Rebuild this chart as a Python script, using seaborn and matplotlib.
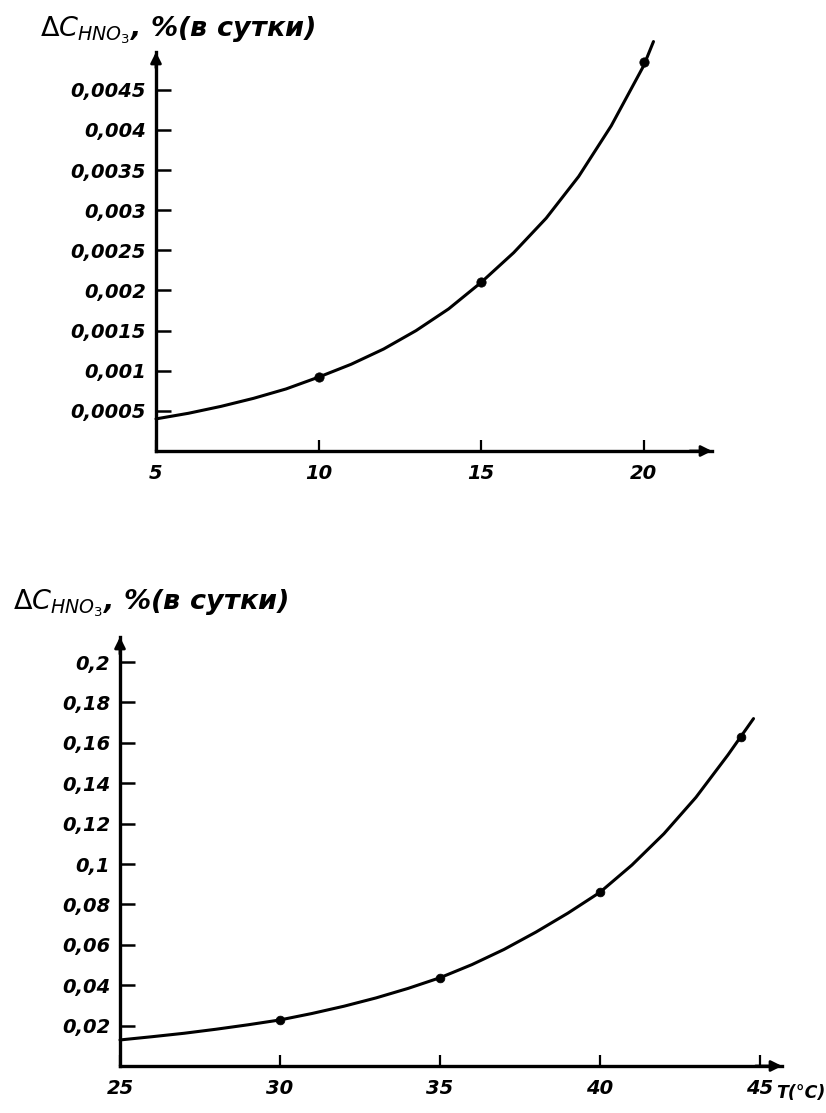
import numpy as np
import pandas as pd
import matplotlib
matplotlib.use("Agg")
import matplotlib.pyplot as plt
import seaborn as sns

# ---------------- data ----------------
# upper chart: temperature 5..20 °C
top_curve_T = [5, 6, 7, 8, 9, 10, 11, 12, 13, 14, 15, 16, 17, 18, 19, 20, 20.3]
top_curve_C = [0.0004, 0.00047, 0.000556, 0.000656, 0.000773, 0.00092, 0.00108,
               0.00127, 0.0015, 0.00177, 0.0021, 0.00247, 0.0029, 0.00342,
               0.00405, 0.0048, 0.0051]
top_points_T = [10, 15, 20]
top_points_C = [0.00092, 0.0021, 0.00484]
top_xticks = [5, 10, 15, 20]
top_xticklabels = ["5", "10", "15", "20"]
top_yticks = [0.0005, 0.001, 0.0015, 0.002, 0.0025, 0.003, 0.0035, 0.004, 0.0045]
top_yticklabels = ["0,0005", "0,001", "0,0015", "0,002", "0,0025", "0,003",
                   "0,0035", "0,004", "0,0045"]

# lower chart: temperature 25..45 °C
bot_curve_T = [25, 26, 27, 28, 29, 30, 31, 32, 33, 34, 35, 36, 37, 38, 39, 40,
               41, 42, 43, 44, 44.4, 44.8]
bot_curve_C = [0.0129, 0.0145, 0.0162, 0.0182, 0.0204, 0.0228, 0.026, 0.0296,
               0.0337, 0.0384, 0.0437, 0.0502, 0.0577, 0.0663, 0.0757, 0.086,
               0.0995, 0.115, 0.133, 0.154, 0.163, 0.172]
bot_points_T = [30, 35, 40, 44.4]
bot_points_C = [0.0228, 0.0437, 0.086, 0.163]
bot_xticks = [25, 30, 35, 40, 45]
bot_xticklabels = ["25", "30", "35", "40", "45"]
bot_yticks = [0.02, 0.04, 0.06, 0.08, 0.1, 0.12, 0.14, 0.16, 0.18, 0.2]
bot_yticklabels = ["0,02", "0,04", "0,06", "0,08", "0,1", "0,12", "0,14",
                   "0,16", "0,18", "0,2"]

ylabel_text = r"$\Delta C_{HNO_3}$, %(в сутки)"
xunit_text = "T(°C)"

# ---------------- style ----------------
sns.set_style("white")
plt.rcParams['font.family'] = ['DejaVu Sans']
plt.rcParams['mathtext.fontset'] = 'dejavusans'
plt.rcParams['mathtext.default'] = 'it'
plt.rcParams['text.color'] = 'black'

W, H = 826, 1113
fig = plt.figure(figsize=(W / 100, H / 100), dpi=100)
fig.patch.set_facecolor("white")

ax1 = fig.add_axes([156 / W, 1 - 451 / H, 556 / W, 399 / H])
ax2 = fig.add_axes([120 / W, 1 - 1066 / H, 662 / W, 429 / H])

lab_font = dict(fontsize=14, fontstyle="italic", fontweight="bold",
                color="black")


def style_axis(ax, xlim, ylim, xticks, xlabels, yticks, ylabels, xpad):
    ax.set_xlim(*xlim)
    ax.set_ylim(*ylim)
    for s in ("top", "right"):
        ax.spines[s].set_visible(False)
    for s in ("left", "bottom"):
        ax.spines[s].set_linewidth(2.4)
        ax.spines[s].set_color("black")
    ax.set_xticks(xticks)
    ax.set_xticklabels(xlabels, **lab_font)
    ax.set_yticks(yticks)
    ax.set_yticklabels(ylabels, **lab_font)
    ax.tick_params(axis="y", direction="in", length=11, width=1.8, pad=7,
                   colors="black", left=True)
    ax.tick_params(axis="x", direction="in", length=8, width=1.6, pad=xpad,
                   colors="black", bottom=True)
    ax.set_xlabel("")
    ax.set_ylabel("")
    ax.grid(False)
    # arrow heads on the axes ends
    ax.annotate("", xy=(1, 0), xycoords="axes fraction", xytext=(0.96, 0),
                arrowprops=dict(arrowstyle="-|>", color="black", lw=2.0,
                                mutation_scale=16, shrinkA=0, shrinkB=0))
    ax.annotate("", xy=(0, 1), xycoords="axes fraction", xytext=(0, 0.96),
                arrowprops=dict(arrowstyle="-|>", color="black", lw=2.0,
                                mutation_scale=16, shrinkA=0, shrinkB=0))


df_top = pd.DataFrame({"T": top_curve_T, "C": top_curve_C})
df_top_pts = pd.DataFrame({"T": top_points_T, "C": top_points_C})
df_bot = pd.DataFrame({"T": bot_curve_T, "C": bot_curve_C})
df_bot_pts = pd.DataFrame({"T": bot_points_T, "C": bot_points_C})

sns.lineplot(data=df_top, x="T", y="C", ax=ax1, color="black", lw=2.2,
             sort=True, clip_on=False)
sns.scatterplot(data=df_top_pts, x="T", y="C", ax=ax1, color="black", s=45,
                edgecolor="black", clip_on=False, zorder=5)
style_axis(ax1, (5, 22.1), (0, 0.00497), top_xticks, top_xticklabels,
           top_yticks, top_yticklabels, 9)

sns.lineplot(data=df_bot, x="T", y="C", ax=ax2, color="black", lw=2.2,
             sort=True, clip_on=False)
sns.scatterplot(data=df_bot_pts, x="T", y="C", ax=ax2, color="black", s=40,
                edgecolor="black", clip_on=False, zorder=5)
style_axis(ax2, (25, 45.69), (0, 0.2124), bot_xticks, bot_xticklabels,
           bot_yticks, bot_yticklabels, 9)

fig.text(40 / W, 1 - 30 / H, ylabel_text, fontsize=19.5, fontstyle="italic",
         fontweight="bold", va="center", ha="left", color="black")
fig.text(13 / W, 1 - 603 / H, ylabel_text, fontsize=19.5, fontstyle="italic",
         fontweight="bold", va="center", ha="left", color="black")
fig.text(776 / W, 1 - 1093 / H, xunit_text, fontsize=12.5, fontstyle="italic",
         fontweight="bold", va="center", ha="left", color="black")

fig.savefig("out.png", dpi=100, facecolor="white")
